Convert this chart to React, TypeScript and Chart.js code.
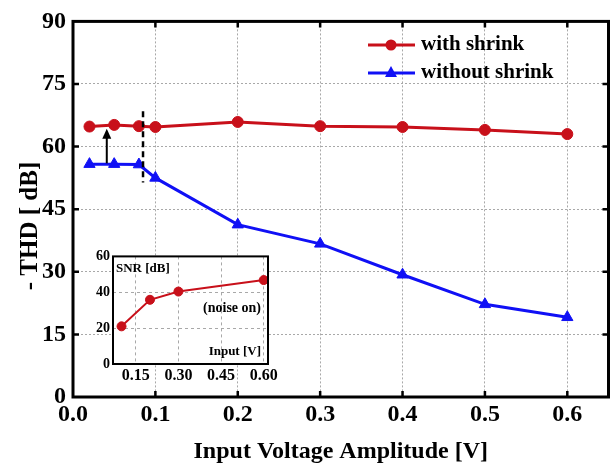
import React, { useEffect, useRef } from 'react';
import { Chart, registerables } from 'chart.js';
Chart.register(...registerables);

// ---- main chart data ----
const xValues = [0.02, 0.05, 0.08, 0.1, 0.2, 0.3, 0.4, 0.5, 0.6];
const withShrink = [64.8, 65.2, 64.9, 64.7, 65.9, 64.9, 64.7, 64.0, 63.0];
const withoutShrink = [55.8, 55.8, 55.7, 52.5, 41.3, 36.7, 29.3, 22.2, 19.1];
const xTicks = [0, 0.1, 0.2, 0.3, 0.4, 0.5, 0.6];
const yTicks = [0, 15, 30, 45, 60, 75, 90];
const seriesNames = ['with shrink', 'without shrink'];
const xTitle = 'Input Voltage Amplitude [V]';
const yTitle = '- THD [ dB]';

// annotation values (data units)
const arrowX = 0.041;
const arrowFrom = 56.0;
const arrowTo = 64.3;
const markerX = 0.085;
const markerFrom = 51.4;
const markerTo = 68.5;

// ---- inset data ----
const insetX = [0.1, 0.2, 0.3, 0.6];
const insetSNR = [21.0, 35.8, 40.4, 46.8];
const insetXTicks = [0.15, 0.3, 0.45, 0.6];
const insetYTicks = [0, 20, 40, 60];

const SERIF = '"Liberation Serif", "Times New Roman", serif';
const RED = '#c8101a';
const BLUE = '#1010f5';
const GRID = '#a8a8a8';

function frameTicksPlugin(frameWidth: number, tickLen: number, tickWidth: number, inward: boolean) {
  return {
    id: 'frameTicks',
    afterDatasetsDraw(chart: any) {
      const { ctx, chartArea: a, scales } = chart;
      ctx.save();
      ctx.strokeStyle = '#000';
      if (inward) {
        ctx.lineWidth = tickWidth;
        ctx.beginPath();
        for (const t of scales.x.ticks) {
          const px = scales.x.getPixelForValue(t.value);
          if (px <= a.left + 1 || px >= a.right - 1) continue;
          ctx.moveTo(px, a.bottom);
          ctx.lineTo(px, a.bottom - tickLen);
          ctx.moveTo(px, a.top);
          ctx.lineTo(px, a.top + tickLen);
        }
        for (const t of scales.y.ticks) {
          const py = scales.y.getPixelForValue(t.value);
          if (py <= a.top + 1 || py >= a.bottom - 1) continue;
          ctx.moveTo(a.left, py);
          ctx.lineTo(a.left + tickLen, py);
          ctx.moveTo(a.right, py);
          ctx.lineTo(a.right - tickLen, py);
        }
        ctx.stroke();
      }
      ctx.lineWidth = frameWidth;
      ctx.strokeRect(a.left, a.top, a.right - a.left, a.bottom - a.top);
      ctx.restore();
    },
  };
}

const annotationPlugin = {
  id: 'annotations',
  afterDatasetsDraw(chart: any) {
    const { ctx, scales } = chart;
    const x = scales.x, y = scales.y;
    ctx.save();
    ctx.strokeStyle = '#000';
    ctx.lineWidth = 2.5;
    ctx.setLineDash([6, 4]);
    ctx.beginPath();
    ctx.moveTo(x.getPixelForValue(markerX), y.getPixelForValue(markerTo));
    ctx.lineTo(x.getPixelForValue(markerX), y.getPixelForValue(markerFrom));
    ctx.stroke();
    ctx.setLineDash([]);
    const ax = x.getPixelForValue(arrowX);
    const y0 = y.getPixelForValue(arrowFrom);
    const y1 = y.getPixelForValue(arrowTo);
    ctx.lineWidth = 2;
    ctx.beginPath();
    ctx.moveTo(ax, y0);
    ctx.lineTo(ax, y1 + 8);
    ctx.stroke();
    ctx.fillStyle = '#000';
    ctx.beginPath();
    ctx.moveTo(ax, y1);
    ctx.lineTo(ax - 4.5, y1 + 10);
    ctx.lineTo(ax + 4.5, y1 + 10);
    ctx.closePath();
    ctx.fill();
    ctx.restore();
  },
};

const yTitlePlugin = {
  id: 'yTitle',
  afterDraw(chart: any) {
    const { ctx } = chart;
    ctx.save();
    ctx.translate(31, 226);
    ctx.rotate(-Math.PI / 2);
    ctx.fillStyle = '#000';
    ctx.font = `bold 25px ${SERIF}`;
    ctx.textAlign = 'center';
    ctx.textBaseline = 'middle';
    ctx.fillText(yTitle, 0, 0);
    ctx.restore();
  },
};

const legendPlugin = {
  id: 'customLegend',
  afterDraw(chart: any) {
    const { ctx } = chart;
    const rows = [
      { y: 45, color: RED, style: 'circle', text: seriesNames[0] },
      { y: 73, color: BLUE, style: 'triangle', text: seriesNames[1] },
    ];
    ctx.save();
    for (const r of rows) {
      ctx.strokeStyle = r.color;
      ctx.fillStyle = r.color;
      ctx.lineWidth = 3;
      ctx.beginPath();
      ctx.moveTo(368, r.y);
      ctx.lineTo(415, r.y);
      ctx.stroke();
      if (r.style === 'circle') {
        ctx.beginPath();
        ctx.arc(391, r.y, 5.5, 0, Math.PI * 2);
        ctx.fill();
      } else {
        ctx.beginPath();
        ctx.moveTo(391, r.y - 7);
        ctx.lineTo(385, r.y + 4);
        ctx.lineTo(397, r.y + 4);
        ctx.closePath();
        ctx.fill();
      }
      ctx.fillStyle = '#000';
      ctx.font = `bold 21px ${SERIF}`;
      ctx.textBaseline = 'middle';
      ctx.textAlign = 'left';
      ctx.fillText(r.text, 421, r.y);
    }
    ctx.restore();
  },
};

const insetDecor = {
  id: 'insetDecor',
  beforeDraw(chart: any) {
    const { ctx, chartArea: a } = chart;
    ctx.save();
    ctx.fillStyle = '#fff';
    ctx.fillRect(a.left, a.top, a.right - a.left, a.bottom - a.top);
    ctx.restore();
  },
  afterDraw(chart: any) {
    const { ctx, chartArea: a } = chart;
    ctx.save();
    ctx.fillStyle = '#000';
    ctx.textBaseline = 'middle';
    ctx.font = `bold 13px ${SERIF}`;
    ctx.textAlign = 'left';
    ctx.fillText('SNR [dB]', a.left + 3, a.top + 12);
    ctx.textAlign = 'right';
    ctx.font = `bold 14px ${SERIF}`;
    ctx.fillText('(noise on)', a.right - 7, a.top + 52);
    ctx.font = `bold 13px ${SERIF}`;
    ctx.fillText('Input [V]', a.right - 7, a.bottom - 12);
    ctx.restore();
  },
};

export default function App() {
  const mainRef = useRef<HTMLCanvasElement>(null);
  const insetRef = useRef<HTMLCanvasElement>(null);

  useEffect(() => {
    const edgeColor = (lo: number, hi: number) => (c: any) => {
      const v = c.tick ? c.tick.value : NaN;
      return v === lo || v === hi ? 'rgba(0,0,0,0)' : GRID;
    };

    const main = new Chart(mainRef.current as HTMLCanvasElement, {
      type: 'line',
      data: {
        datasets: [
          {
            label: seriesNames[0],
            data: xValues.map((x, i) => ({ x, y: withShrink[i] })),
            borderColor: RED,
            backgroundColor: RED,
            borderWidth: 3,
            pointStyle: 'circle',
            pointRadius: 5.5,
            pointBorderWidth: 1,
            tension: 0,
          },
          {
            label: seriesNames[1],
            data: xValues.map((x, i) => ({ x, y: withoutShrink[i] })),
            borderColor: BLUE,
            backgroundColor: BLUE,
            borderWidth: 3,
            pointStyle: 'triangle',
            pointRadius: 6.5,
            pointBorderWidth: 1,
            tension: 0,
          },
        ],
      },
      options: {
        responsive: false,
        animation: false,
        devicePixelRatio: 1,
        layout: { padding: { left: 0, right: 6, top: 20, bottom: 0 } },
        plugins: { legend: { display: false }, tooltip: { enabled: false } },
        scales: {
          x: {
            type: 'linear',
            min: 0,
            max: 0.65,
            afterBuildTicks: (s: any) => {
              s.ticks = xTicks.map((v) => ({ value: v }));
            },
            afterFit: (s: any) => {
              s.height = 71;
            },
            grid: { color: edgeColor(0, 0.65), lineWidth: 1, drawTicks: false },
            border: { display: false, dash: [2, 2] },
            ticks: {
              padding: 3,
              color: '#000',
              autoSkip: false,
              maxRotation: 0,
              font: { family: SERIF, size: 24, weight: 'bold' },
              callback: (v: any) => Number(v).toFixed(1),
            },
            title: {
              display: true,
              text: xTitle,
              color: '#000',
              font: { family: SERIF, size: 24, weight: 'bold' },
              padding: { top: 0, bottom: 2 },
            },
          },
          y: {
            type: 'linear',
            min: 0,
            max: 90,
            afterBuildTicks: (s: any) => {
              s.ticks = yTicks.map((v) => ({ value: v }));
            },
            afterFit: (s: any) => {
              s.width = 73;
            },
            grid: { color: edgeColor(0, 90), lineWidth: 1, drawTicks: false },
            border: { display: false, dash: [2, 2] },
            ticks: {
              padding: 7,
              color: '#000',
              autoSkip: false,
              font: { family: SERIF, size: 24, weight: 'bold' },
              callback: (v: any) => String(v),
            },
            title: { display: false },
          },
        },
      },
      plugins: [annotationPlugin, frameTicksPlugin(3, 6, 2.5, true), legendPlugin, yTitlePlugin],
    } as any);

    const inset = new Chart(insetRef.current as HTMLCanvasElement, {
      type: 'line',
      data: {
        datasets: [
          {
            label: 'SNR',
            data: insetX.map((x, i) => ({ x, y: insetSNR[i] })),
            borderColor: RED,
            backgroundColor: RED,
            borderWidth: 2,
            pointRadius: 4.5,
            pointBorderWidth: 1,
            tension: 0,
          },
        ],
      },
      options: {
        responsive: false,
        animation: false,
        devicePixelRatio: 1,
        layout: { padding: { left: 0, right: 17, top: 11, bottom: 0 } },
        plugins: { legend: { display: false }, tooltip: { enabled: false } },
        scales: {
          x: {
            type: 'linear',
            min: 0.07,
            max: 0.615,
            afterBuildTicks: (s: any) => {
              s.ticks = insetXTicks.map((v) => ({ value: v }));
            },
            afterFit: (s: any) => {
              s.height = 26;
            },
            grid: { color: GRID, lineWidth: 1, drawTicks: false },
            border: { display: false, dash: [3, 3] },
            ticks: {
              padding: 2,
              color: '#000',
              autoSkip: false,
              maxRotation: 0,
              font: { family: SERIF, size: 16, weight: 'bold' },
              callback: (v: any) => Number(v).toFixed(2),
            },
          },
          y: {
            type: 'linear',
            min: 0,
            max: 60,
            afterBuildTicks: (s: any) => {
              s.ticks = insetYTicks.map((v) => ({ value: v }));
            },
            afterFit: (s: any) => {
              s.width = 43;
            },
            grid: { color: edgeColor(0, 60), lineWidth: 1, drawTicks: false },
            border: { display: false, dash: [3, 3] },
            ticks: {
              padding: 3,
              color: '#000',
              autoSkip: false,
              font: { family: SERIF, size: 14, weight: 'bold' },
              callback: (v: any) => String(v),
            },
          },
        },
      },
      plugins: [insetDecor, frameTicksPlugin(2, 0, 0, false)],
    } as any);

    return () => {
      main.destroy();
      inset.destroy();
    };
  }, []);

  return (
    <div style={{ position: 'fixed', left: 0, top: 0, width: 616, height: 468, background: '#fff' }}>
      <canvas
        ref={mainRef}
        width={616}
        height={468}
        style={{ position: 'absolute', left: 0, top: 0, width: 616, height: 468 }}
      />
      <canvas
        ref={insetRef}
        width={215}
        height={145}
        style={{ position: 'absolute', left: 70, top: 245, width: 215, height: 145 }}
      />
    </div>
  );
}
